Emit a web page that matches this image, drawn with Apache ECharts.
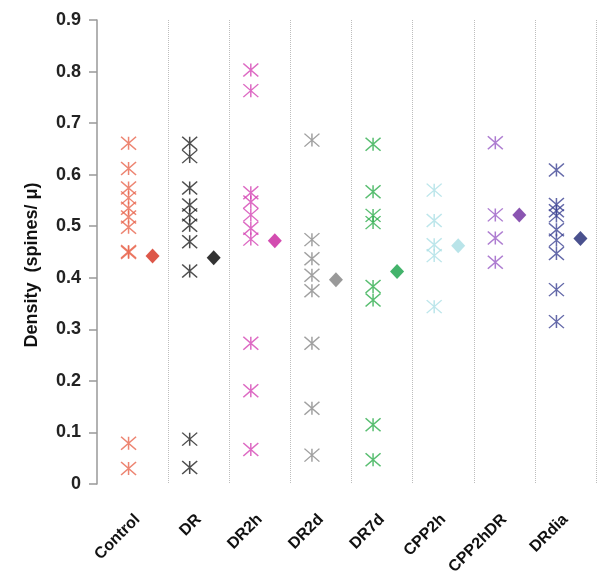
<!DOCTYPE html>
<html>
<head>
<meta charset="utf-8">
<script src="https://cdn.jsdelivr.net/npm/echarts@6/dist/echarts.min.js"></script>
<style>
  html, body { margin: 0; padding: 0; background: #fff; }
  #chart { width: 606px; height: 573px; }
</style>
</head>
<body>
<div id="chart"></div>
<script>
// groups on the x axis
var groups = ['Control', 'DR', 'DR2h', 'DR2d', 'DR7d', 'CPP2h', 'CPP2hDR', 'DRdia'];

// individual densities (spines/µ) per group
var control = [0.661, 0.612, 0.574, 0.555, 0.535, 0.518, 0.498, 0.451, 0.449, 0.079, 0.030];
var dr      = [0.661, 0.635, 0.574, 0.541, 0.522, 0.502, 0.470, 0.413, 0.087, 0.032];
var dr2h    = [0.803, 0.763, 0.565, 0.547, 0.522, 0.496, 0.475, 0.273, 0.181, 0.067];
var dr2d    = [0.667, 0.474, 0.437, 0.405, 0.375, 0.273, 0.147, 0.056];
var dr7d    = [0.659, 0.567, 0.521, 0.507, 0.383, 0.357, 0.115, 0.047];
var cpp2h   = [0.570, 0.511, 0.464, 0.443, 0.344];
var cpp2hdr = [0.662, 0.522, 0.477, 0.430];
var drdia   = [0.609, 0.542, 0.530, 0.520, 0.493, 0.473, 0.447, 0.377, 0.315];

// group means (diamonds)
var means = [0.442, 0.439, 0.472, 0.396, 0.412, 0.462, 0.522, 0.476];

var pointColors = ['#e8664f', '#222222', '#d445b4', '#8a8a8a', '#2fae4e', '#ace0e6', '#9a5cc6', '#3d4394'];
var meanColors  = ['#d42d1c', '#000000', '#c81f9c', '#7f7f7f', '#14a046', '#a8dde3', '#6d2a9e', '#1d2672'];

var values = [control, dr, dr2h, dr2d, dr7d, cpp2h, cpp2hdr, drdia];

var asterisk = 'path://M0,0 L10,10 M10,0 L0,10 M5,0 L5,10';
var font = 'Liberation Sans, Arial, sans-serif';

var series = [];
values.forEach(function (vals, i) {
    series.push({
        name: groups[i],
        type: 'scatter',
        symbol: asterisk,
        symbolSize: [15, 13],
        symbolOffset: [-9, 0],
        itemStyle: { color: 'transparent', borderColor: pointColors[i], borderWidth: 1.4 },
        data: vals.map(function (v) { return [groups[i], v]; }),
        z: 2
    });
});
series.push({
    name: 'mean',
    type: 'scatter',
    symbol: 'diamond',
    symbolSize: [14, 15],
    symbolOffset: [15, 0],
    data: means.map(function (v, i) {
        return { value: [groups[i], v], itemStyle: { color: meanColors[i] } };
    }),
    z: 3
});

var chart = echarts.init(document.getElementById('chart'));
chart.setOption({
    animation: false,
    grid: { left: 107, right: 10, top: 20, bottom: 89, outerBoundsMode: 'none' },
    xAxis: {
        type: 'category',
        data: groups,
        boundaryGap: true,
        axisLine: { show: false },
        axisTick: { show: false },
        axisLabel: {
            rotate: 45,
            margin: 33,
            color: '#111',
            fontWeight: 'bold',
            fontSize: 16,
            fontFamily: font
        },
        splitLine: {
            show: true,
            showMinLine: false,
            lineStyle: { color: '#bdbdbd', type: 'dotted', width: 1 }
        }
    },
    yAxis: {
        type: 'value',
        min: 0,
        max: 0.9,
        interval: 0.1,
        offset: 10,
        name: 'Density  (spines/ \u03bc)',
        nameLocation: 'middle',
        nameGap: 56,
        nameTextStyle: {
            color: '#111', fontWeight: 'bold', fontSize: 18, fontFamily: font,
            padding: [0, 26, 0, 0]
        },
        axisLine: { show: true, lineStyle: { color: '#999', width: 1.5 } },
        axisTick: { show: true, length: 8, lineStyle: { color: '#999', width: 1.5 } },
        axisLabel: {
            margin: 16,
            color: '#222',
            fontWeight: 'bold',
            fontSize: 18,
            fontFamily: font
        },
        splitLine: { show: false }
    },
    series: series
});
</script>
</body>
</html>
